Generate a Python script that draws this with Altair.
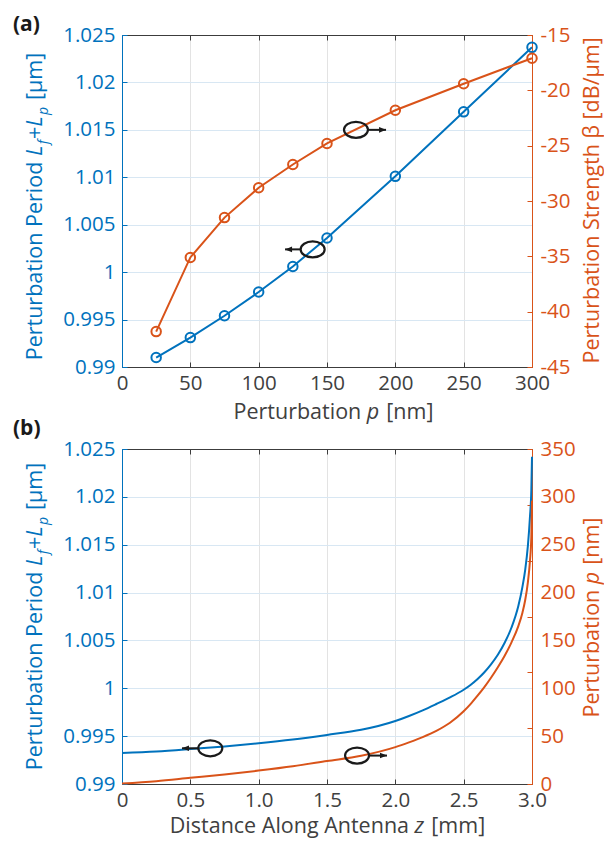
import altair as alt
import pandas as pd

BLUE = "#0072BD"
ORANGE = "#D95319"
TXT = "#404040"
FRAME = "#3C3C3C"
INK = "#1A1A1A"
GRID_X = "#E3E3E3"
GRID_Y = "#D8E7F3"
FONT = "Open Sans"
LAB = 20.5
TIT = 21.5
SUB = 14.0
SUB_SHIFT = 6.0

W = 410
HA = 332
HB = 335

# ---------------- panel (a) data ----------------
p_nm = [25, 50, 75, 100, 125, 150, 200, 250, 300]
period_a = [0.9910, 0.9931, 0.9954, 0.9979, 1.0006, 1.0036, 1.0101, 1.0169, 1.0237]
beta_a = [-41.8, -35.1, -31.5, -28.8, -26.7, -24.8, -21.8, -19.4, -17.1]

# ---------------- panel (b) data ----------------
z_mm = [0.0, 0.25, 0.5, 0.75, 1.0, 1.25, 1.5, 1.75, 2.0, 2.1, 2.2, 2.3, 2.4, 2.5,
        2.55, 2.6, 2.65, 2.7, 2.75, 2.8, 2.85, 2.9, 2.93, 2.95, 2.97, 2.985, 2.995, 3.0]
period_b = [0.99324, 0.99340, 0.99365, 0.99393, 0.99426, 0.99465, 0.99513, 0.99566,
            0.99658, 0.99711, 0.99770, 0.99836, 0.99905, 0.99985, 1.00035, 1.00095,
            1.00165, 1.00250, 1.00350, 1.00475, 1.00635, 1.00860, 1.01060, 1.01235,
            1.01490, 1.01790, 1.02070, 1.02420]
p_b = [0.5, 3.0, 6.5, 10.0, 14.0, 18.5, 24.0, 29.5, 38.5, 43.5, 49.0, 55.5, 64.0, 76.0,
       83.5, 92.0, 101.0, 111.0, 122.0, 134.0, 148.0, 165.0, 179.0, 192.0, 211.0,
       233.0, 258.0, 296.0]

# ---------------- annotation marks (ellipse + arrow) ----------------
a_ell_x = [139.5, 171.2]
a_ell_y = [1.0024, 1.0150]
a_arr_from = [130.7, 180.0]
a_arr_to = [119.3, 193.2]
b_ell_x = [0.646, 1.720]
b_ell_y = [0.99373, 0.99297]
b_arr_from = [0.558, 1.808]
b_arr_to = [0.439, 1.939]

# ---------------- ticks ----------------
xa_ticks = [0, 50, 100, 150, 200, 250, 300]
xb_ticks = [0, 0.5, 1.0, 1.5, 2.0, 2.5, 3.0]
yl_ticks = [0.99, 0.995, 1.0, 1.005, 1.01, 1.015, 1.02, 1.025]
yra_ticks = [-45, -40, -35, -30, -25, -20, -15]
yrb_labels = [0, 50, 100, 150, 200, 250, 300, 350]
yrb_marks = [0, 58.33, 116.67, 175, 233.33, 291.67, 350]

ELLIPSE = ("M -1 0 C -1 -0.368 -0.552 -0.667 0 -0.667 C 0.552 -0.667 1 -0.368 1 0 "
           "C 1 0.368 0.552 0.667 0 0.667 C -0.552 0.667 -1 0.368 -1 0 Z")
HEAD_L = "M 0 0 L 1 -0.4 L 1 0.4 Z"
HEAD_R = "M 0 0 L -1 -0.4 L -1 0.4 Z"

# approximate Open Sans advance widths (em) for laying out mixed-style titles
OS = {' ': .260, 'A': .633, 'D': .722, 'L': .547, 'P': .603, 'S': .550, '[': .301,
      ']': .301, '+': .572, '/': .371, 'a': .556, 'b': .613, 'c': .476, 'd': .613,
      'e': .561, 'f': .339, 'g': .548, 'h': .614, 'i': .253, 'l': .253, 'm': .930,
      'n': .614, 'o': .604, 'p': .613, 'r': .408, 's': .477, 't': .353, 'u': .614,
      'z': .477, 'B': .632, 'μ': .620, 'β': .620}
OSI = {'L': .50, 'f': .30, 'p': .60, 'z': .47}


def seg_width(t, k):
    if k == "n":
        return sum(OS.get(c, .56) for c in t) * TIT
    if k == "i":
        return sum(OSI.get(c, .55) for c in t) * TIT + 1.0
    return sum(OSI.get(c, .55) for c in t) * SUB + 1.0


def build_title(segs, center, base, rotated):
    total = sum(seg_width(t, k) for t, k in segs)
    start = center + total / 2 if rotated else center - total / 2
    rows, d = [], 0.0
    for t, k in segs:
        lead = len(t) - len(t.lstrip(" "))
        lead_w = lead * OS[' '] * TIT
        off = SUB_SHIFT if k == "s" else 0.0
        s = t.strip(" ")
        if rotated:
            rows.append(dict(t=s, k=k, px=base + off, py=start - d - lead_w))
        else:
            rows.append(dict(t=s, k=k, px=start + d + lead_w, py=base + off))
        d += seg_width(t, k)
    return rows


def title_layers(rows, rotated, color):
    layers = []
    for k, style, size in [("n", "normal", TIT), ("i", "italic", TIT), ("s", "italic", SUB)]:
        sub = [r for r in rows if r["k"] == k]
        if not sub:
            continue
        layers.append(
            alt.Chart(pd.DataFrame(sub)).mark_text(
                angle=270 if rotated else 0, align="left", baseline="alphabetic",
                font=FONT, fontSize=size, fontStyle=style, color=color
            ).encode(
                x=alt.X("px:Q", scale=None, axis=None),
                y=alt.Y("py:Q", scale=None, axis=None),
                text="t:N",
            )
        )
    return layers


def simple_text(t, px, py, size, color, angle=0, align="left", weight="normal"):
    return alt.Chart(pd.DataFrame({"t": [t], "px": [px], "py": [py]})).mark_text(
        angle=angle, align=align, baseline="alphabetic", font=FONT, fontSize=size,
        fontWeight=weight, color=color
    ).encode(
        x=alt.X("px:Q", scale=None, axis=None),
        y=alt.Y("py:Q", scale=None, axis=None),
        text="t:N",
    )


def panel(df, xf, xdom, xticks, xlabexpr, yrf, yrdom, yrlabels, yrmarks, H,
          with_points, interp, ell_x, ell_y, arr_from, arr_to, extra):
    xs = alt.Scale(domain=xdom, nice=False, zero=False)
    yls = alt.Scale(domain=[0.99, 1.025], nice=False, zero=False)
    yrs = alt.Scale(domain=yrdom, nice=False, zero=False)

    def pts(color):
        if not with_points:
            return False
        return alt.OverlayMarkDef(filled=False, size=90, strokeWidth=2, color=color)

    blue = alt.Chart(df).mark_line(color=BLUE, strokeWidth=2, interpolate=interp,
                                   point=pts(BLUE)).encode(
        x=alt.X(f"{xf}:Q", scale=xs, axis=alt.Axis(
            orient="bottom", values=xticks, labelExpr=xlabexpr, title=None,
            grid=True, gridColor=GRID_X, gridWidth=1, ticks=False, tickSize=0,
            domain=True, domainColor=FRAME, domainWidth=1, labelColor=TXT,
            labelFont=FONT, labelFontSize=LAB, labelPadding=6, labelFlush=False,
            labelOverlap=False)),
        y=alt.Y("period:Q", scale=yls, axis=alt.Axis(
            orient="left", values=yl_ticks, labelExpr="'' + datum.value", title=None,
            grid=True, gridColor=GRID_Y, gridWidth=1, ticks=False, tickSize=0,
            domain=True, domainColor=BLUE, domainWidth=1, labelColor=BLUE,
            labelFont=FONT, labelFontSize=LAB, labelPadding=7, labelOverlap=False)),
    )
    orange = alt.Chart(df).mark_line(color=ORANGE, strokeWidth=2, interpolate=interp,
                                     point=pts(ORANGE)).encode(
        x=alt.X(f"{xf}:Q", scale=xs, axis=None),
        y=alt.Y(f"{yrf}:Q", scale=yrs, axis=alt.Axis(
            orient="right", values=yrlabels, labelExpr="'' + datum.value", title=None,
            grid=False, ticks=False, tickSize=0, domain=True, domainColor=ORANGE,
            domainWidth=1, labelColor=ORANGE, labelFont=FONT, labelFontSize=LAB,
            labelPadding=8, labelOverlap=False)),
    )
    tick_l = alt.Chart(df).mark_point(opacity=0).encode(
        x=alt.X(f"{xf}:Q", scale=xs, axis=alt.Axis(
            orient="bottom", offset=-H, values=xticks, labels=False, ticks=True,
            tickSize=5, tickColor=FRAME, domain=True, domainColor=FRAME,
            domainWidth=1, grid=False, title=None)),
        y=alt.Y("period:Q", scale=yls, axis=alt.Axis(
            orient="right", offset=-W, values=yl_ticks, labels=False, ticks=True,
            tickSize=5, tickColor=BLUE, domain=False, grid=False, title=None)),
    )
    tick_r = alt.Chart(df).mark_point(opacity=0).encode(
        x=alt.X(f"{xf}:Q", scale=xs, axis=alt.Axis(
            orient="top", offset=-H, values=xticks, labels=False, ticks=True,
            tickSize=5, tickColor=FRAME, domain=False, grid=False, title=None)),
        y=alt.Y(f"{yrf}:Q", scale=yrs, axis=alt.Axis(
            orient="left", offset=-W, values=yrmarks, labels=False, ticks=True,
            tickSize=5, tickColor=ORANGE, domain=False, grid=False, title=None)),
    )
    ell_df = pd.DataFrame({"ex": ell_x, "ey": ell_y})
    ell = alt.Chart(ell_df).mark_point(shape=ELLIPSE, size=576, filled=False, color=INK,
                                       strokeWidth=2.2, opacity=1).encode(
        x=alt.X("ex:Q", scale=xs, axis=None),
        y=alt.Y("ey:Q", scale=yls, axis=None),
    )
    arr_df = pd.DataFrame({"ax": arr_from, "ax2": arr_to, "ay": ell_y,
                           "shape": [HEAD_L, HEAD_R]})
    rule = alt.Chart(arr_df).mark_rule(color=INK, strokeWidth=2).encode(
        x=alt.X("ax:Q", scale=xs, axis=None),
        x2="ax2:Q",
        y=alt.Y("ay:Q", scale=yls, axis=None),
    )
    head = alt.Chart(arr_df).mark_point(filled=True, size=196, color=INK, opacity=1,
                                        strokeWidth=0).encode(
        x=alt.X("ax2:Q", scale=xs, axis=None),
        y=alt.Y("ay:Q", scale=yls, axis=None),
        shape=alt.Shape("shape:N", scale=None),
    )
    layers = [blue, orange, tick_l, tick_r, ell, rule, head] + extra
    return alt.layer(*layers).resolve_scale(y="independent").resolve_axis(
        x="independent", y="independent").properties(width=W, height=H)


left_segs = [("Perturbation Period ", "n"), ("L", "i"), ("f", "s"), ("+", "n"),
             ("L", "i"), ("p", "s"), (" [μm]", "n")]

# ---------------- panel (a) ----------------
df_a = pd.DataFrame({"p": p_nm, "period": period_a, "beta": beta_a})
texts_a = []
texts_a.append(simple_text("(a)", -109, -4, 21, INK, weight="bold"))
texts_a += title_layers(build_title(left_segs, 172, -80, True), True, BLUE)
texts_a += title_layers(build_title([("Perturbation ", "n"), ("p", "i"), (" [nm]", "n")],
                                    211, 384, False), False, TXT)
texts_a += title_layers(build_title([("Perturbation Strength β [dB/μm]", "n")],
                                    166, 477, True), True, ORANGE)

chart_a = panel(df_a, "p", [0, 300], xa_ticks, "'' + datum.value", "beta", [-45, -15],
                yra_ticks, yra_ticks, HA, True, "linear",
                a_ell_x, a_ell_y, a_arr_from, a_arr_to, texts_a)

# ---------------- panel (b) ----------------
df_b = pd.DataFrame({"z": z_mm, "period": period_b, "pnm": p_b})
texts_b = []
texts_b.append(simple_text("(b)", -109, -14, 21, INK, weight="bold"))
texts_b += title_layers(build_title(left_segs, 168, -80, True), True, BLUE)
texts_b += title_layers(build_title([("Distance Along Antenna ", "n"), ("z", "i"),
                                     (" [mm]", "n")], 205, 384, False), False, TXT)
texts_b += title_layers(build_title([("Perturbation ", "n"), ("p", "i"), (" [nm]", "n")],
                                    169, 477, True), True, ORANGE)

chart_b = panel(df_b, "z", [0, 3.0], xb_ticks,
                "datum.value == 0 ? '0' : format(datum.value, '.1f')", "pnm", [0, 350],
                yrb_labels, yrb_marks, HB, False, "monotone",
                b_ell_x, b_ell_y, b_arr_from, b_arr_to, texts_b)

chart = alt.vconcat(chart_a, chart_b, spacing=82, bounds="flush").properties(
    padding={"left": 5, "top": 6, "right": 0, "bottom": 5}
).configure(font=FONT).configure_view(stroke=None)

chart.save("out.html", embed_options={"renderer": "svg", "actions": False})
